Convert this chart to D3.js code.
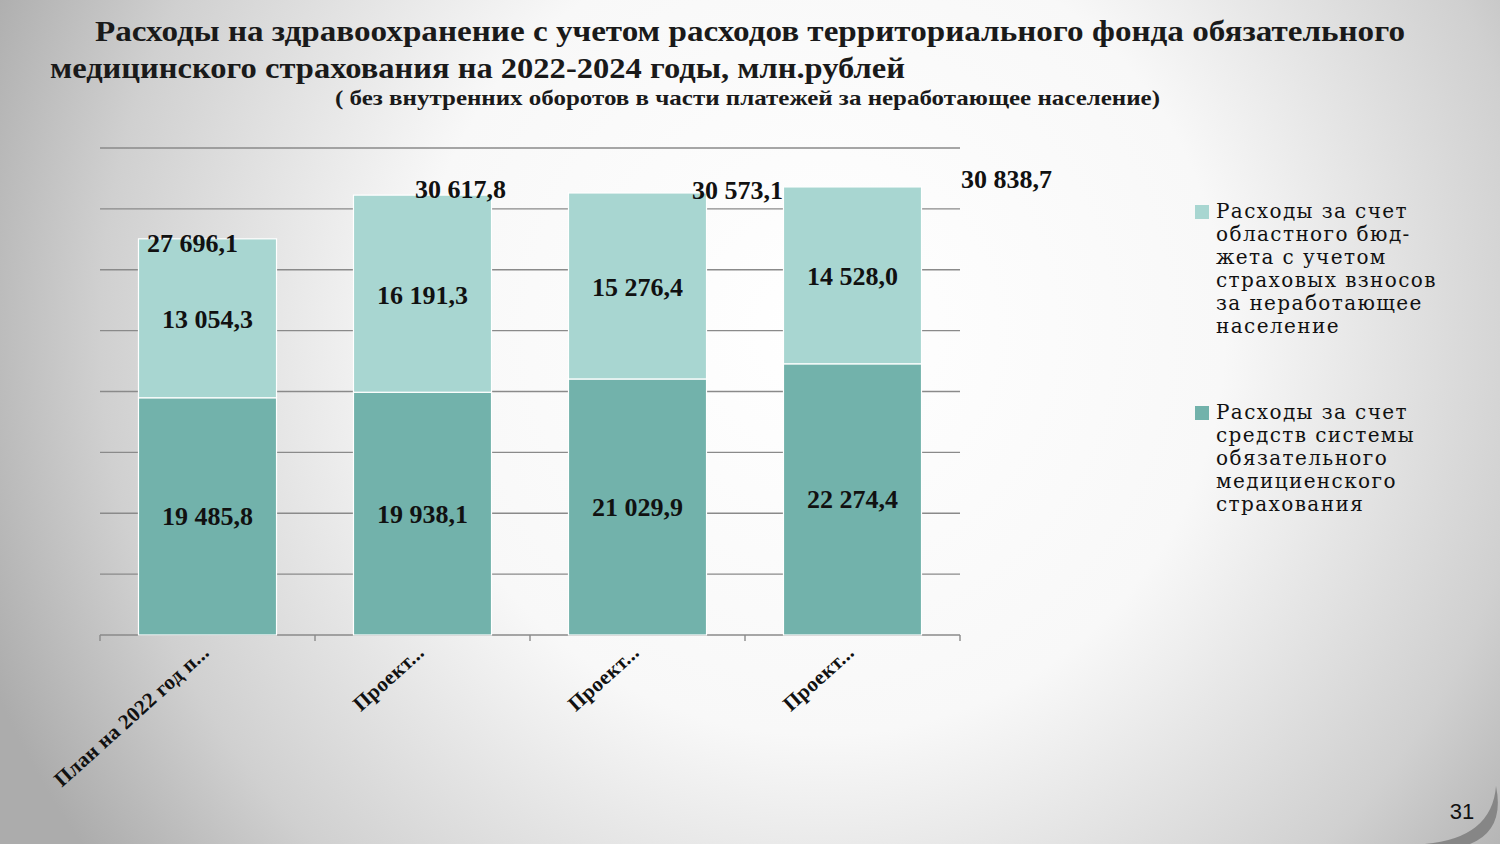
<!DOCTYPE html>
<html><head><meta charset="utf-8">
<script src="https://cdn.jsdelivr.net/npm/d3@7"></script>
<style>html,body{margin:0;padding:0;overflow:hidden;}svg{display:block;}</style>
</head><body>
<svg id="chart" width="1500" height="844"></svg>
<script>
const categories = ["План на 2022 год п...", "Проект...", "Проект...", "Проект..."];
const omsValues = [19485.8, 19938.1, 21029.9, 22274.4];
const budgetValues = [13054.3, 16191.3, 15276.4, 14528.0];
const totalLabels = ["27 696,1", "30 617,8", "30 573,1", "30 838,7"];
const yTicks = [0, 5000, 10000, 15000, 20000, 25000, 30000, 35000, 40000];
const seriesNames = [
  ["Расходы за счет", "областного бюд-", "жета с учетом", "страховых взносов", "за неработающее", "население"],
  ["Расходы за счет", "средств системы", "обязательного", "медициенского", "страхования"]
];
const titleLines = [
  "Расходы на здравоохранение с учетом расходов территориального фонда обязательного",
  "медицинского страхования на 2022-2024 годы, млн.рублей",
  "( без внутренних оборотов в части платежей за неработающее население)"
];

const fmt = v => { const s = v.toFixed(1).replace(".", ","); const [i, d] = s.split(","); return i.replace(/\B(?=(\d{3})+(?!\d))/g, " ") + "," + d; };

const svg = d3.select("#chart");
const defs = svg.append("defs");
const rg = defs.append("radialGradient").attr("id", "bg").attr("gradientUnits", "userSpaceOnUse")
  .attr("cx", 820).attr("cy", 330).attr("r", 900).attr("fx", 820).attr("fy", 330);
rg.append("stop").attr("offset", "0").attr("stop-color", "#ffffff");
rg.append("stop").attr("offset", "0.45").attr("stop-color", "#f8f8f8");
rg.append("stop").attr("offset", "0.8").attr("stop-color", "#d0d0d0");
rg.append("stop").attr("offset", "1").attr("stop-color", "#acacac");
svg.append("rect").attr("width", 1500).attr("height", 844).attr("fill", "url(#bg)");

// Title
const titleFont = "'Liberation Serif', serif";
const tl = [
  {x: 95, y: 41, size: 30, len: 1310},
  {x: 50, y: 78, size: 30, len: 855},
  {x: 335, y: 105, size: 21, len: 825}
];
titleLines.forEach((t, i) => {
  svg.append("text").attr("x", tl[i].x).attr("y", tl[i].y)
    .attr("font-family", titleFont).attr("font-weight", "bold").attr("font-size", tl[i].size)
    .attr("fill", "#1a1a1a").attr("textLength", tl[i].len).attr("lengthAdjust", "spacingAndGlyphs")
    .text(t);
});

// Scales
const x = d3.scaleBand().domain(d3.range(categories.length)).range([100, 960]).paddingInner(0.358).paddingOuter(0.179);
const y = d3.scaleLinear().domain([0, 40000]).range([635, 148]);

// Gridlines
svg.append("g").selectAll("line").data(yTicks).join("line")
  .attr("x1", 100).attr("x2", 960).attr("y1", d => y(d)).attr("y2", d => y(d))
  .attr("stroke", "#8a8a8a").attr("stroke-width", 1.4);

// X axis ticks (between categories)
const xAxis = d3.axisBottom(x).tickSize(0).tickFormat("");
const gx = svg.append("g").attr("transform", `translate(0,${y(0)})`).call(xAxis);
gx.select(".domain").remove();
const step = x.step();
const tickPos = d3.range(categories.length + 1).map(i => 100 + i * step);
gx.selectAll(".tk").data(tickPos).join("line").attr("class", "tk")
  .attr("x1", d => d).attr("x2", d => d).attr("y1", 0).attr("y2", 6)
  .attr("stroke", "#8a8a8a").attr("stroke-width", 1.4);

// Bars
const colBottom = "#72b2ab", colTop = "#a8d6d1";
const bars = svg.append("g");
bars.selectAll(".b1").data(omsValues).join("rect").attr("class", "b1")
  .attr("x", (d, i) => x(i)).attr("width", x.bandwidth())
  .attr("y", d => y(d)).attr("height", d => y(0) - y(d))
  .attr("fill", colBottom).attr("stroke", "#ffffff").attr("stroke-width", 1.2);
bars.selectAll(".b2").data(budgetValues).join("rect").attr("class", "b2")
  .attr("x", (d, i) => x(i)).attr("width", x.bandwidth())
  .attr("y", (d, i) => y(omsValues[i] + d)).attr("height", (d, i) => y(omsValues[i]) - y(omsValues[i] + d))
  .attr("fill", colTop).attr("stroke", "#ffffff").attr("stroke-width", 1.2);

// Segment labels
const lblFont = "'Liberation Serif', serif";
svg.append("g").selectAll("text").data(omsValues).join("text")
  .attr("x", (d, i) => x(i) + x.bandwidth() / 2).attr("y", d => (y(0) + y(d)) / 2 + 9)
  .attr("text-anchor", "middle").attr("font-family", lblFont).attr("font-weight", "bold")
  .attr("font-size", 26).attr("fill", "#111").text(d => fmt(d));
svg.append("g").selectAll("text").data(budgetValues).join("text")
  .attr("x", (d, i) => x(i) + x.bandwidth() / 2).attr("y", (d, i) => (y(omsValues[i]) + y(omsValues[i] + d)) / 2 + 10)
  .attr("text-anchor", "middle").attr("font-family", lblFont).attr("font-weight", "bold")
  .attr("font-size", 26).attr("fill", "#111").text(d => fmt(d));

// Total labels (nudged as in the original layout)
const totalNudge = [[-15, 13], [38, 3], [100, 6], [154, 1.5]];
svg.append("g").selectAll("text").data(totalLabels).join("text")
  .attr("x", (d, i) => x(i) + x.bandwidth() / 2 + totalNudge[i][0])
  .attr("y", (d, i) => y(omsValues[i] + budgetValues[i]) + totalNudge[i][1])
  .attr("text-anchor", "middle").attr("font-family", lblFont).attr("font-weight", "bold")
  .attr("font-size", 26).attr("fill", "#111").text(d => d);

// Category labels
svg.append("g").selectAll("text").data(categories).join("text")
  .attr("transform", (d, i) => `translate(${x(i) + x.bandwidth() / 2 + 3},${y(0) + 19}) rotate(-42)`)
  .attr("text-anchor", "end").attr("font-family", lblFont).attr("font-weight", "bold")
  .attr("font-size", 21).attr("letter-spacing", 0.3).attr("fill", "#111").text(d => d);

// Legend
const legY = [205, 406];
const legCols = [colTop, colBottom];
seriesNames.forEach((lines, k) => {
  const g = svg.append("g");
  g.append("rect").attr("x", 1195).attr("y", legY[k]).attr("width", 14).attr("height", 14).attr("fill", legCols[k]);
  lines.forEach((ln, j) => {
    g.append("text").attr("x", 1216).attr("y", legY[k] + 13 + j * 23)
      .attr("font-family", "'DejaVu Serif', serif").attr("font-size", 20).attr("fill", "#111")
      .attr("letter-spacing", 1.4).text(ln);
  });
});

// Page corner curl and number
svg.append("path").attr("d", "M1425,844 Q1492,838 1496,786 Q1505,830 1470,844 Z")
  .attr("fill", "#7d7d7d").attr("opacity", 0.85);
svg.append("text").attr("x", 1462).attr("y", 819).attr("text-anchor", "middle")
  .attr("font-family", "'Liberation Sans', Arial, sans-serif").attr("font-size", 22).attr("fill", "#111").text("31");
</script>
</body></html>
